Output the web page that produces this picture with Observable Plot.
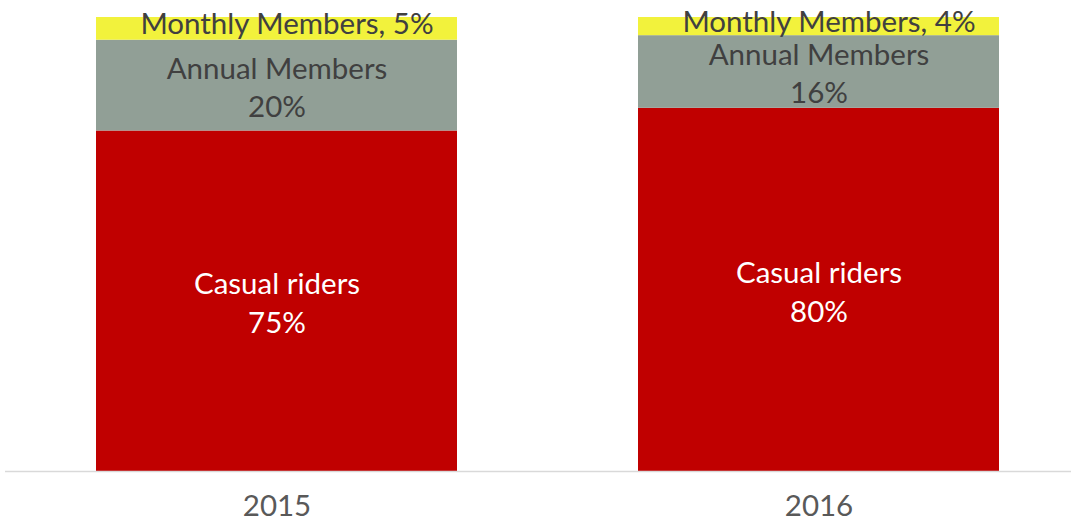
<!DOCTYPE html>
<html>
<head>
<meta charset="utf-8">
<script src="https://cdn.jsdelivr.net/npm/d3@7"></script>
<script src="https://cdn.jsdelivr.net/npm/@observablehq/plot@0.6"></script>
<style>
  html, body { margin: 0; padding: 0; background: #fff; }
  #chart svg { display: block; }
</style>
</head>
<body>
<div id="chart"></div>
<script>
const years = ["2015", "2016"];
const types = ["Casual riders", "Annual Members", "Monthly Members"];
const casual = [75, 80];
const annual = [20, 16];
const monthly = [5, 4];
const colors = ["#C00000", "#919F96", "#F2F23C"];

const data = [];
years.forEach((y, i) => {
  data.push({year: y, type: types[0], value: casual[i]});
  data.push({year: y, type: types[1], value: annual[i]});
  data.push({year: y, type: types[2], value: monthly[i]});
});

const font = "Lato, 'Open Sans', sans-serif";
const fs = 29.5;

const stackOpts = (text) => Plot.stackY({x: "year", y: "value", z: "type", order: types, text});

const chart = Plot.plot({
  width: 1076,
  height: 525,
  marginTop: 17,
  marginBottom: 54,
  marginLeft: 5,
  marginRight: 5,
  style: {fontFamily: font, background: "#fff"},
  x: {domain: years, range: [96, 1000], paddingInner: 0.3333, paddingOuter: 0, label: null},
  y: {domain: [0, 100], axis: null},
  color: {domain: types, range: colors},
  marks: [
    Plot.barY(data, {x: "year", y: "value", fill: "type", order: types}),
    Plot.textY(data, {...stackOpts(d => d.type === types[0] ? `Casual riders\n${d.value}%` : null),
      fill: "white", fontSize: fs, lineHeight: 1.32}),
    Plot.textY(data, {...stackOpts(d => d.type === types[1] ? `Annual Members\n${d.value}%` : null),
      fill: "#404040", fontSize: fs, lineHeight: 1.3}),
    Plot.textY(data, {...stackOpts(d => d.type === types[2] ? `Monthly Members, ${d.value}%` : null),
      fill: "#404040", fontSize: fs, dx: 10, dy: -4}),
    Plot.ruleY([0], {stroke: "#d9d9d9", strokeWidth: 1.5}),
    Plot.axisX({tickSize: 0, tickPadding: 24, fontSize: fs, color: "#595959", label: null})
  ]
});
document.getElementById("chart").appendChild(chart);
</script>
</body>
</html>
